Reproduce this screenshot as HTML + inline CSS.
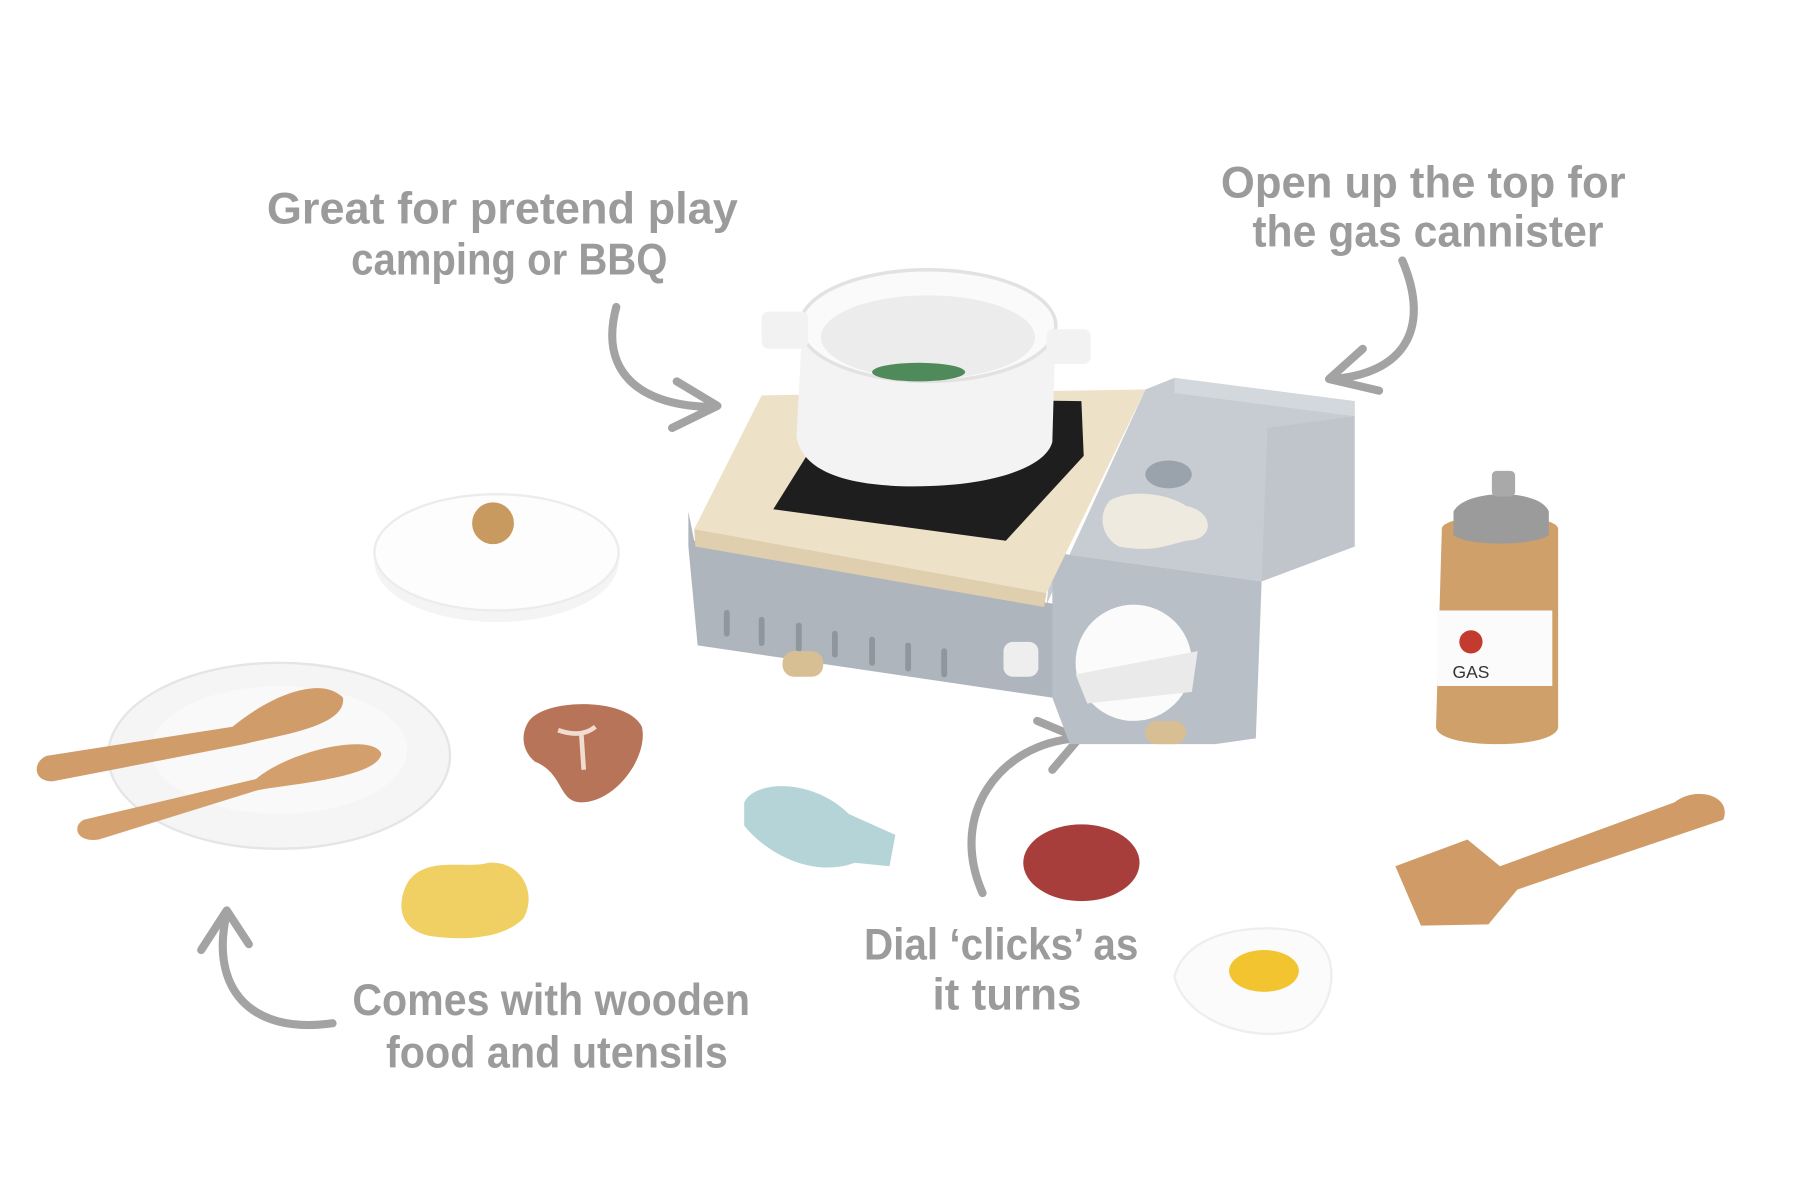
<!DOCTYPE html>
<html><head><meta charset="utf-8"><style>
html,body{margin:0;padding:0;background:#fff;}
svg{display:block;}
text{font-family:"Liberation Sans",sans-serif;font-weight:bold;fill:#9b9b9b;}
</style></head><body>
<svg width="1800" height="1200" viewBox="0 0 1548 1032" preserveAspectRatio="none" xmlns="http://www.w3.org/2000/svg">
<rect width="1548" height="1032" fill="#fff"/>
<g font-size="38" text-anchor="middle">
<text x="432" y="192" textLength="405" lengthAdjust="spacingAndGlyphs">Great for pretend play</text>
<text x="438" y="236" textLength="272" lengthAdjust="spacingAndGlyphs">camping or BBQ</text>
<text x="1224" y="170" textLength="348" lengthAdjust="spacingAndGlyphs">Open up the top for</text>
<text x="1228" y="212" textLength="302" lengthAdjust="spacingAndGlyphs">the gas cannister</text>
<text x="861" y="825" textLength="236" lengthAdjust="spacingAndGlyphs">Dial ‘clicks’ as</text>
<text x="866" y="868" textLength="128" lengthAdjust="spacingAndGlyphs">it turns</text>
<text x="474" y="873" textLength="342" lengthAdjust="spacingAndGlyphs">Comes with wooden</text>
<text x="479" y="918" textLength="294" lengthAdjust="spacingAndGlyphs">food and utensils</text>
</g>
<g fill="none" stroke="#a3a3a3" stroke-width="7" stroke-linecap="round" stroke-linejoin="round">
<path d="M530,264 C515,320 550,350 615,350"/><path d="M582,328 L617,349 L578,368"/>
<path d="M1206,224 C1232,285 1205,322 1145,326"/><path d="M1172,300 L1143,326 L1186,336"/>
<path d="M845,768 C815,700 860,640 925,635"/><path d="M892,620 L928,635 L905,662"/>
<path d="M286,880 C215,890 180,850 195,785"/><path d="M173,817 L195,783 L214,812"/>
</g>
<!-- stove: front-left face -->
<path d="M592,440 L592,470 L600,555 L905,600 L910,520 L597,465 Z" fill="#aeb5bd"/>
<!-- right compartment -->
<path d="M985,335 L1010,325 L1165,345 L1165,470 L1085,500 L905,475 L900,520 Z" fill="#c6ccd2"/>
<path d="M1010,325 L1165,345 L1165,358 L1010,338Z" fill="#d3d8dc"/>
<path d="M1085,500 L1165,470 L1165,358 L1090,368 Z" fill="#bfc5cb"/>
<path d="M905,475 L1085,500 L1080,635 L1045,640 L920,640 L905,600 Z" fill="#b8bfc6"/>
<!-- wood top -->
<path d="M655,340 L985,335 L900,510 L597,455 Z" fill="#ede2c8"/>
<path d="M597,455 L900,510 L898,522 L598,470Z" fill="#dfcfae"/>
<!-- burner -->
<path d="M665,438 L865,465 L932,392 L930,345 L725,342 Z" fill="#1e1e1e"/>
<!-- pot -->
<path d="M690,280 L685,375 C690,410 740,420 800,418 C860,416 900,400 905,380 L908,275 Z" fill="#f3f3f3"/>
<ellipse cx="798" cy="280" rx="110" ry="48" fill="#fafafa" stroke="#e2e2e2" stroke-width="3"/>
<ellipse cx="798" cy="290" rx="92" ry="36" fill="#ececec"/>
<ellipse cx="790" cy="320" rx="40" ry="8" fill="#4f8a5a"/>
<rect x="655" y="268" width="40" height="32" rx="6" fill="#f2f2f2"/>
<rect x="900" y="283" width="38" height="30" rx="6" fill="#f2f2f2"/>
<g stroke="#8e969e" stroke-width="5" stroke-linecap="round">
<line x1="625" y1="527" x2="625" y2="545"/><line x1="655" y1="533" x2="655" y2="553"/><line x1="687" y1="538" x2="687" y2="558"/><line x1="718" y1="545" x2="718" y2="563"/><line x1="750" y1="550" x2="750" y2="570"/><line x1="781" y1="555" x2="781" y2="575"/><line x1="812" y1="560" x2="812" y2="580"/>
</g>
<rect x="863" y="552" width="30" height="30" rx="8" fill="#eee"/>
<circle cx="975" cy="570" r="50" fill="#fbfbfb"/>
<path d="M925,580 L1030,560 L1025,595 L935,605Z" fill="#eaeaea"/>
<ellipse cx="1005" cy="408" rx="20" ry="12" fill="#9aa3ac"/>
<path d="M955,430 C975,420 1005,425 1020,435 C1045,440 1045,465 1020,465 C1000,470 990,475 962,470 C945,460 945,440 955,430Z" fill="#efeae0"/>
<rect x="673" y="560" width="35" height="22" rx="10" fill="#d8bf93"/>
<rect x="985" y="620" width="35" height="20" rx="10" fill="#d8bf93"/>
<!-- lid -->
<ellipse cx="427" cy="483" rx="105" ry="52" fill="#f4f4f4"/>
<ellipse cx="427" cy="475" rx="105" ry="50" fill="#fdfdfd" stroke="#ececec" stroke-width="2"/>
<circle cx="424" cy="450" r="18" fill="#c89a5f"/>
<!-- plate -->
<ellipse cx="240" cy="650" rx="147" ry="80" fill="#f5f5f5" stroke="#e5e5e5" stroke-width="2"/>
<ellipse cx="240" cy="645" rx="110" ry="55" fill="#f9f9f9"/>
<path d="M40,650 L200,625 C230,600 275,580 295,600 C298,625 240,632 210,640 L45,672 C28,672 28,655 40,650Z" fill="#d09c6a"/>
<path d="M72,705 L220,670 C250,645 320,630 328,648 C325,670 240,675 220,680 L85,722 C65,725 62,710 72,705Z" fill="#d3a06d"/>
<path d="M455,620 C470,600 540,600 552,625 C558,650 530,690 500,690 C480,690 485,665 460,655 C448,645 448,630 455,620Z" fill="#b87458"/>
<path d="M480,628 Q500,635 512,625 M500,632 L502,662" stroke="#f1ddd0" stroke-width="4" fill="none"/>
<path d="M350,760 C365,735 400,748 420,742 C450,740 462,770 450,790 C430,810 390,808 370,805 C345,800 340,780 350,760Z" fill="#f0cf63"/>
<path d="M640,690 C650,670 700,670 730,700 L770,718 L765,745 L735,742 C700,755 660,735 640,710Z" fill="#b5d4d8"/>
<ellipse cx="930" cy="742" rx="50" ry="33" fill="#a83e3b"/>
<path d="M1010,840 C1020,800 1080,795 1110,800 C1160,805 1150,870 1120,885 C1080,898 1020,880 1010,840Z" fill="#fbfbfb" stroke="#eee" stroke-width="2"/>
<ellipse cx="1087" cy="835" rx="30" ry="18" fill="#f1c430"/>
<path d="M1240,455 C1240,440 1340,440 1340,455 L1340,625 C1340,645 1235,645 1235,625Z" fill="#cfa06a"/>
<path d="M1250,440 C1260,420 1325,420 1332,440 L1332,460 C1320,470 1260,470 1250,460Z" fill="#9b9b9b"/>
<rect x="1283" y="405" width="20" height="22" rx="4" fill="#a9a9a9"/>
<path d="M1236,525 L1335,525 L1335,590 L1236,590Z" fill="#fbfbfb"/>
<circle cx="1265" cy="552" r="10" fill="#c23b2e"/>
<text x="1265" y="583" font-size="15" text-anchor="middle" style="fill:#333;font-weight:normal">GAS</text>
<path d="M1200,745 L1262,722 L1290,745 L1440,690 C1460,675 1490,685 1482,705 L1305,765 L1280,795 L1222,796Z" fill="#d09b67"/>
</svg>
</body></html>
